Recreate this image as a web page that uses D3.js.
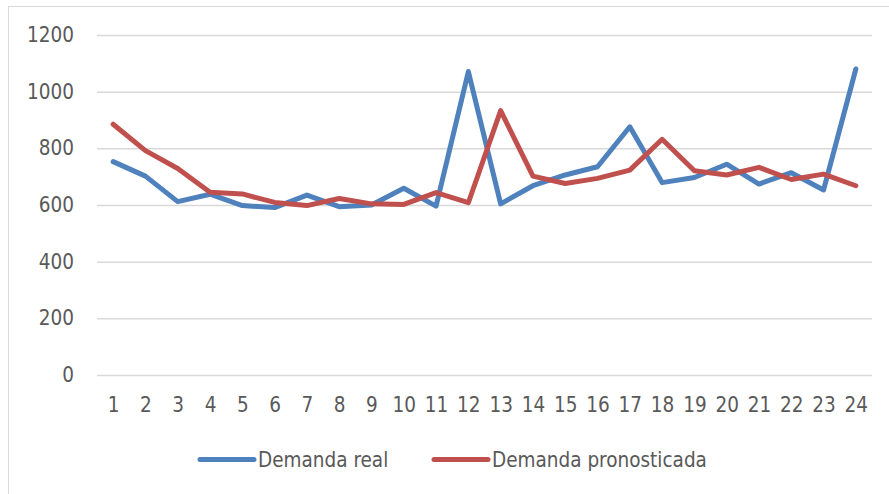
<!DOCTYPE html>
<html>
<head>
<meta charset="utf-8">
<script src="https://cdn.jsdelivr.net/npm/d3@7"></script>
<style>
  html, body { margin: 0; padding: 0; background: #fff; }
  svg text { font-family: "DejaVu Sans Condensed", "Liberation Sans Narrow", sans-serif; font-stretch: condensed; fill: #595959; }
</style>
</head>
<body>
<script>
/* global d3 */
(function() {
  'use strict';

  const periods = d3.range(1, 25);
  const demandaReal = [753, 702, 612, 638, 598, 591, 635, 594, 600, 659, 596, 1071,
    604, 668, 706, 735, 876, 679, 697, 744, 674, 714, 653, 1080];
  const demandaPronosticada = [885, 792, 729, 645, 639, 609, 598, 623, 604, 602, 644, 608,
    933, 702, 676, 694, 723, 832, 721, 706, 733, 690, 709, 668];
  const yTicks = [0, 200, 400, 600, 800, 1000, 1200];
  const seriesNames = ['Demanda real', 'Demanda pronosticada'];
  const colors = ['#4f81bd', '#c0504d'];

  const w = 889;
  const h = 494;
  const left = 97, right = 872, top = 35, bottom = 375;

  const svg = d3.select('body')
    .append('svg')
    .attr('width', w)
    .attr('height', h);

  // chart area border (only left and top visible)
  svg.append('rect')
    .attr('x', 8.5)
    .attr('y', 6.5)
    .attr('width', w + 20)
    .attr('height', h + 20)
    .attr('fill', 'none')
    .attr('stroke', '#d9d9d9')
    .attr('stroke-width', 1);

  const xScale = d3.scalePoint()
    .domain(periods)
    .range([left, right])
    .padding(0.5);

  const yScale = d3.scaleLinear()
    .domain([0, 1200])
    .range([bottom, top]);

  // gridlines
  const yAxis = d3.axisLeft(yScale)
    .tickValues(yTicks)
    .tickFormat(d3.format('d'))
    .tickSize(-(right - left))
    .tickPadding(23);
  const gy = svg.append('g')
    .attr('transform', 'translate(' + left + ',0)')
    .call(yAxis);
  gy.select('.domain').remove();
  gy.selectAll('.tick line')
    .attr('stroke', '#d9d9d9')
    .attr('stroke-width', 1.5);
  gy.selectAll('.tick text')
    .attr('font-size', 20.5)
    .attr('fill', '#595959');

  const xAxis = d3.axisBottom(xScale).tickSize(0).tickPadding(22);
  const gx = svg.append('g')
    .attr('transform', 'translate(0,' + bottom + ')')
    .call(xAxis);
  gx.select('.domain').remove();
  gx.selectAll('.tick text')
    .attr('font-size', 20.5)
    .attr('fill', '#595959');

  const line = d3.line()
    .x((d, i) => xScale(periods[i]))
    .y((d) => yScale(d));

  [demandaReal, demandaPronosticada].forEach((s, i) => {
    svg.append('path')
      .datum(s)
      .attr('d', line)
      .attr('fill', 'none')
      .attr('stroke', colors[i])
      .attr('stroke-width', 5)
      .attr('stroke-linejoin', 'round')
      .attr('stroke-linecap', 'round');
  });

  // legend
  const legendX = [200, 434];
  const legendY = 459.5;
  seriesNames.forEach((name, i) => {
    svg.append('line')
      .attr('x1', legendX[i])
      .attr('x2', legendX[i] + 54)
      .attr('y1', legendY)
      .attr('y2', legendY)
      .attr('stroke', colors[i])
      .attr('stroke-width', 5)
      .attr('stroke-linecap', 'round');
    svg.append('text')
      .attr('x', legendX[i] + 58)
      .attr('y', legendY)
      .attr('dy', '0.35em')
      .attr('font-size', 20.5)
      .text(name);
  });
}());
</script>
</body>
</html>
